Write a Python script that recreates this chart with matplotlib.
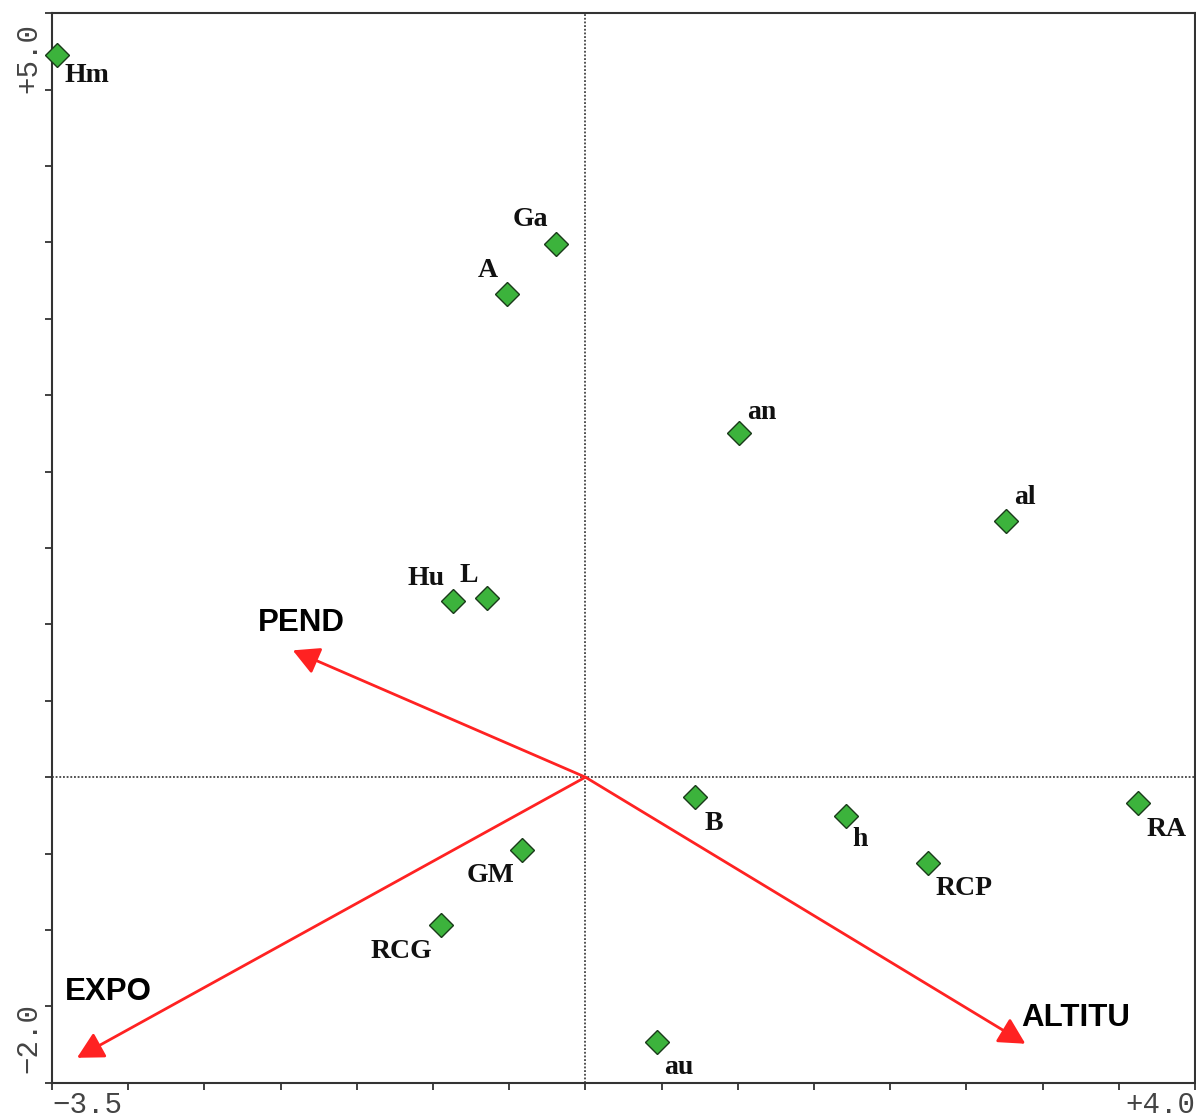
import matplotlib
matplotlib.use('Agg')
import matplotlib.pyplot as plt
import numpy as np

# species scores
species = ['Hm', 'Ga', 'A', 'an', 'al', 'Hu', 'L', 'B', 'h', 'RA', 'RCP', 'GM', 'RCG', 'au']
sp_x = [-3.467, -0.195, -0.516, 1.011, 2.762, -0.870, -0.648, 0.716, 1.707, 3.628, 2.251, -0.418, -0.949, 0.467]
sp_y = [4.73, 3.49, 3.16, 2.25, 1.68, 1.15, 1.17, -0.133, -0.251, -0.166, -0.559, -0.474, -0.965, -1.732]

# environmental arrows
env = ['PEND', 'EXPO', 'ALTITU']
env_x = [-1.920, -3.336, 2.887]
env_y = [0.830, -1.837, -1.745]

x_min, x_max = -3.5, 4.0
y_min, y_max = -2.0, 5.0

# label offsets in pixels (dx, dy down, ha)
sp_off = {
    'Hm': (7, 21, 'left'), 'Ga': (-8, -24, 'right'), 'A': (-9, -24, 'right'),
    'an': (8, -21, 'left'), 'al': (8, -23, 'left'), 'Hu': (-8, -23, 'right'),
    'L': (-9, -23, 'right'), 'B': (10, 26, 'left'), 'h': (7, 24, 'left'),
    'RA': (8, 27, 'left'), 'RCP': (7, 26, 'left'), 'GM': (-7, 26, 'right'),
    'RCG': (-8, 27, 'right'), 'au': (8, 26, 'left'),
}
env_off = {'PEND': (-35, -27), 'EXPO': (-12, -66), 'ALTITU': (-4, -26)}

fig = plt.figure(figsize=(11.96, 11.18), dpi=100)
W, H = 1196, 1118
ax = fig.add_axes([52 / W, (H - 1082.7) / H, (1195 - 52) / W, (1082.7 - 13.3) / H])
ax.set_xlim(x_min, x_max)
ax.set_ylim(y_min, y_max)

ax.axvline(0, color='#222222', ls=(0, (1.2, 1.2)), lw=1.1, zorder=1)
ax.axhline(0, color='#222222', ls=(0, (1.2, 1.2)), lw=1.1, zorder=1)

for name, ex, ey in zip(env, env_x, env_y):
    ax.annotate('', xy=(ex, ey), xytext=(0, 0),
                arrowprops=dict(arrowstyle='-|>,head_length=1.6,head_width=0.85',
                                color='#ff2222', lw=2, shrinkA=0, shrinkB=0),
                zorder=2)
    dx, dy = env_off[name]
    ax.annotate(name, xy=(ex, ey), xytext=(dx, -dy), textcoords='offset pixels',
                ha='left', va='center', fontsize=22.5, fontweight='bold',
                family='Liberation Sans', color='black')

ax.plot(sp_x, sp_y, 'D', ms=12, mfc='#3cb33c', mec='#1a3a1a', mew=1, zorder=3, clip_on=False)
for name, sx, sy in zip(species, sp_x, sp_y):
    dx, dy, ha = sp_off[name]
    ax.annotate(name, xy=(sx, sy), xytext=(dx, -dy), textcoords='offset pixels',
                ha=ha, va='center', fontsize=20, fontweight='bold',
                family='Liberation Serif', color='#111111')

ax.set_xticks(np.arange(x_min, x_max + 0.01, 0.5))
ax.set_yticks(np.arange(y_min, y_max + 0.01, 0.5))
ax.tick_params(length=5, width=1.3, color='#333333', labelbottom=False, labelleft=False)
for s in ax.spines.values():
    s.set_color('#333333')
    s.set_linewidth(1.5)

tfont = dict(family='Liberation Mono', fontsize=21, color='#444444')
ax.text(0.0, -0.008, '\u22123.5', transform=ax.transAxes, ha='left', va='top', **tfont)
ax.text(1.0, -0.008, '+4.0', transform=ax.transAxes, ha='right', va='top', **tfont)
ax.text(-0.021, 0.958, '+5.0', transform=ax.transAxes, ha='center', va='center', rotation=90, **tfont)
ax.text(-0.021, 0.042, '\u22122.0', transform=ax.transAxes, ha='center', va='center', rotation=90, **tfont)

fig.savefig('out.png', dpi=100)
